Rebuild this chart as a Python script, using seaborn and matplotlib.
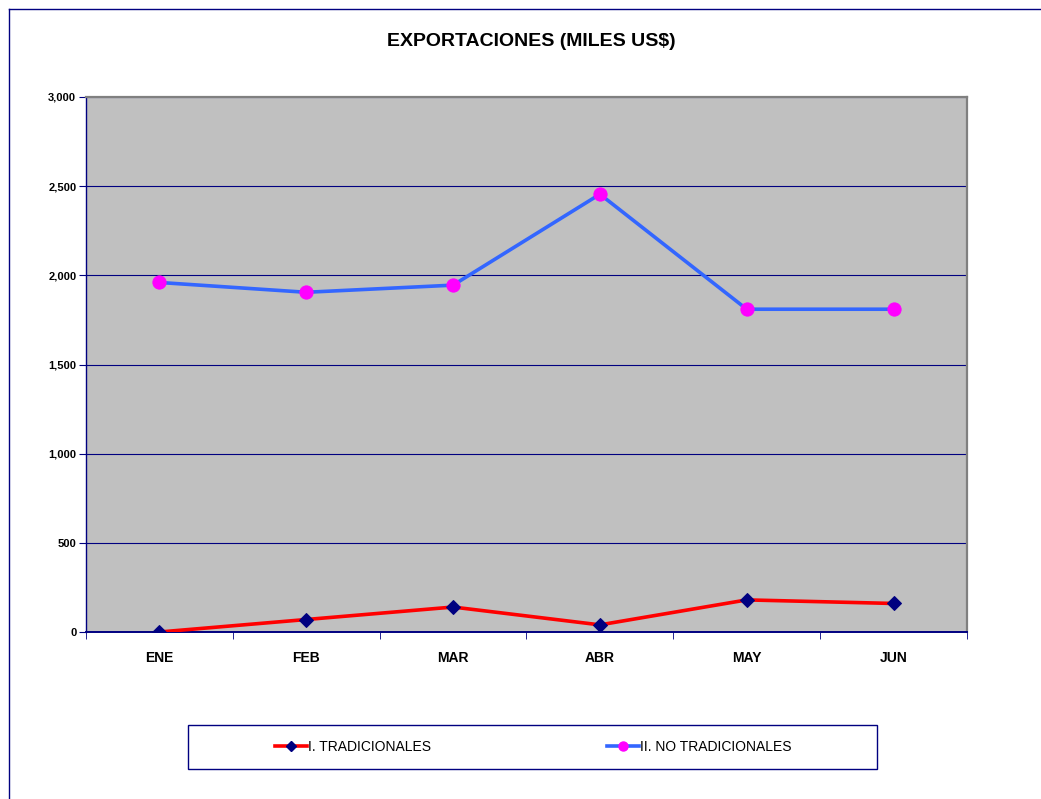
import matplotlib.pyplot as plt
import matplotlib.patches as mpatches
import matplotlib.lines as mlines
import numpy as np
import pandas as pd
import seaborn as sns

# --- datos ---
meses = ['ENE', 'FEB', 'MAR', 'ABR', 'MAY', 'JUN']
tradicionales = [0, 70, 140, 40, 180, 160]
no_tradicionales = [1960, 1905, 1945, 2455, 1810, 1810]
y_ticks = [0, 500, 1000, 1500, 2000, 2500, 3000]

df = pd.DataFrame({
    'mes': np.arange(len(meses)),
    'trad': tradicionales,
    'notrad': no_tradicionales,
})

plt.rcParams['font.family'] = ['Liberation Sans', 'DejaVu Sans']

W, H = 1041, 799
fig = plt.figure(figsize=(W / 100, H / 100), dpi=100)
ax = fig.add_axes([86 / W, 1 - 632 / H, (967 - 86) / W, (632 - 97) / H])
ax.set_facecolor('#C0C0C0')

navy = '#000080'
rojo = '#FF0000'
azul = '#3366FF'
magenta = '#FF00FF'

sns.lineplot(data=df, x='mes', y='trad', ax=ax, color=rojo, lw=2.6,
             marker='D', markersize=7, markerfacecolor=navy,
             markeredgecolor=navy, zorder=3)
sns.lineplot(data=df, x='mes', y='notrad', ax=ax, color=azul, lw=2.6,
             marker='o', markersize=9.5, markerfacecolor=magenta,
             markeredgecolor=magenta, zorder=3)

ax.set_xlim(-0.5, len(meses) - 0.5)
ax.set_ylim(0, 3000)
ax.set_xticks(np.arange(len(meses)))
ax.set_xticklabels(meses, fontsize=10, fontweight='bold')
ax.set_xticks(np.arange(len(meses) + 1) - 0.5, minor=True)
ax.tick_params(axis='x', which='major', length=0, pad=14)
ax.tick_params(axis='x', which='minor', length=5, color=navy, direction='out')
ax.set_yticks(y_ticks)
ax.set_yticklabels([f'{v:,}' for v in y_ticks], fontsize=8, fontweight='bold')
ax.tick_params(axis='y', length=5, color=navy, direction='out', pad=2)
ax.set_xlabel('')
ax.set_ylabel('')

ax.grid(axis='y', color=navy, lw=0.8)
ax.grid(axis='x', visible=False)
ax.set_axisbelow(True)

ax.spines['left'].set_color(navy)
ax.spines['bottom'].set_color(navy)
ax.spines['left'].set_linewidth(1.0)
ax.spines['bottom'].set_linewidth(1.4)
for s in ['top', 'right']:
    ax.spines[s].set_color('#808080')
    ax.spines[s].set_linewidth(1.6)

# titulo
fig.text(531 / W, 1 - 42 / H, 'EXPORTACIONES (MILES US$)', ha='center', va='center',
         fontsize=14, fontweight='bold')

# leyenda
h1 = mlines.Line2D([], [], color=rojo, lw=2.6, marker='D', markersize=5,
                   markerfacecolor=navy, markeredgecolor=navy)
h2 = mlines.Line2D([], [], color=azul, lw=2.6, marker='o', markersize=6.5,
                   markerfacecolor=magenta, markeredgecolor=magenta)
fig.legend([h1, h2], ['I. TRADICIONALES', 'II. NO TRADICIONALES'], loc='center',
           ncol=2, frameon=False, bbox_to_anchor=(533.5 / W, 1 - 747 / H),
           fontsize=10, handlelength=2.3, handletextpad=0.05, columnspacing=12.7)
box = mpatches.Rectangle((188 / W, 1 - 769 / H), (877 - 188) / W, (769 - 725) / H,
                         transform=fig.transFigure, fill=False, edgecolor=navy, lw=1)
fig.patches.append(box)

# borde exterior
fig.lines.append(mlines.Line2D([9 / W, 9 / W], [0, 1 - 9 / H], transform=fig.transFigure,
                               color=navy, lw=1))
fig.lines.append(mlines.Line2D([9 / W, 1], [1 - 9 / H, 1 - 9 / H], transform=fig.transFigure,
                               color=navy, lw=1))

fig.savefig('out.png', dpi=100)
